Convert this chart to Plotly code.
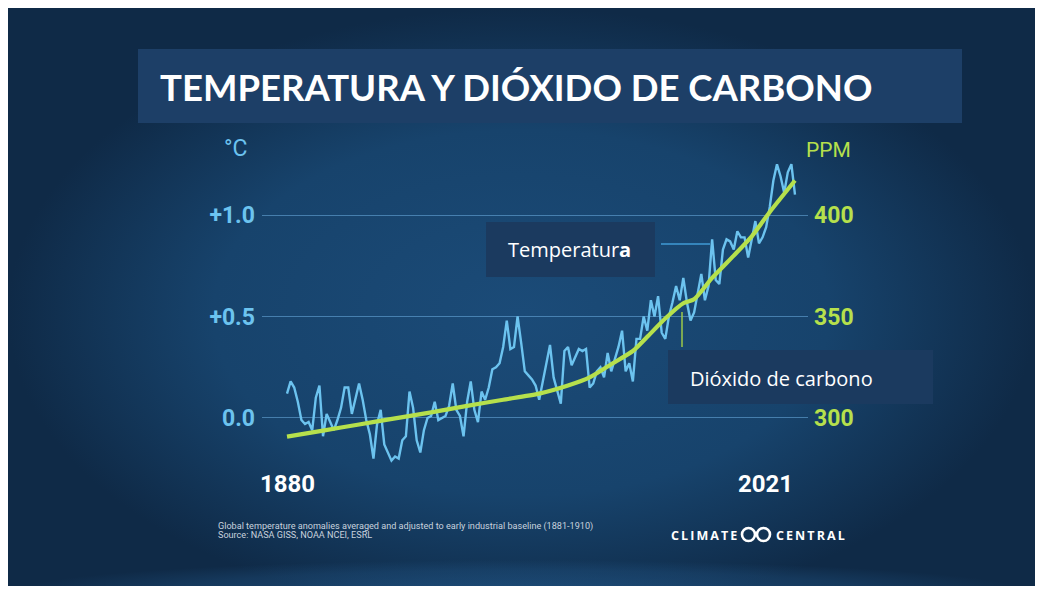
import plotly.graph_objects as go

# ---------------- data ----------------
years = list(range(1880, 2022))
temp_anomaly = [
    0.12, 0.18, 0.15, 0.08, -0.01, -0.03, -0.02, -0.06, 0.10, 0.16,   # 1880-1889
    -0.09, 0.02, -0.02, -0.06, -0.01, 0.05, 0.15, 0.15, 0.02, 0.10,   # 1890-1899
    0.17, 0.09, -0.01, -0.08, -0.20, -0.03, 0.04, -0.13, -0.17, -0.21,  # 1900-1909
    -0.19, -0.20, -0.11, -0.09, 0.13, 0.05, -0.11, -0.17, -0.06, 0.00,  # 1910-1919
    0.01, 0.08, -0.01, 0.00, 0.01, 0.06, 0.17, 0.04, 0.01, -0.09,     # 1920-1929
    0.08, 0.18, 0.04, -0.02, 0.13, 0.09, 0.15, 0.24, 0.25, 0.27,      # 1930-1939
    0.35, 0.48, 0.34, 0.35, 0.50, 0.37, 0.23, 0.21, 0.19, 0.16,       # 1940-1949
    0.09, 0.18, 0.27, 0.36, 0.20, 0.14, 0.07, 0.33, 0.35, 0.26,       # 1950-1959
    0.30, 0.34, 0.33, 0.34, 0.15, 0.17, 0.23, 0.25, 0.20, 0.32,       # 1960-1969
    0.23, 0.29, 0.35, 0.43, 0.23, 0.27, 0.18, 0.39, 0.39, 0.50,       # 1970-1979
    0.43, 0.58, 0.50, 0.60, 0.42, 0.39, 0.50, 0.57, 0.65, 0.58,       # 1980-1989
    0.69, 0.57, 0.48, 0.52, 0.62, 0.71, 0.58, 0.65, 0.88, 0.68,       # 1990-1999
    0.66, 0.83, 0.88, 0.87, 0.83, 0.92, 0.89, 0.89, 0.79, 0.89,       # 2000-2009
    0.97, 0.86, 0.89, 0.94, 1.04, 1.17, 1.25, 1.19, 1.11, 1.21,       # 2010-2019
    1.25, 1.10,                                                       # 2020-2021
]

co2_years = [1880, 1890, 1900, 1910, 1920, 1930, 1940, 1950, 1958, 1964, 1970,
             1976, 1980, 1985, 1990, 1993, 1998, 2004, 2009, 2014, 2021]
co2_ppm = [290.8, 293.8, 296.8, 299.8, 302.8, 306.0, 309.0, 312.0, 316.0, 320.0, 326.5,
           333.0, 340.0, 349.0, 356.5, 358.5, 369.0, 380.0, 389.5, 401.5, 417.0]

temp_ticks = [0.0, 0.5, 1.0]
temp_ticktext = ["0.0", "+0.5", "+1.0"]
co2_ticks = [300, 350, 400]
co2_ticktext = ["300", "350", "400"]
year_first, year_last = 1880, 2021

title_text = "TEMPERATURA Y DIÓXIDO DE CARBONO"
note_line1 = "Global temperature anomalies averaged and adjusted to early industrial baseline (1881-1910)"
note_line2 = "Source: NASA GISS, NOAA NCEI, ESRL"
brand_left = "CLIMATE"
brand_right = "CENTRAL"

# ---------------- layout helpers ----------------
# the page body keeps an 8px margin, so the figure spans 8..1035 x 8..586 of the window
OFF = 8
W, H = 1027, 578


def fx(x):
    return (x - OFF) / W


def fy(y):
    return 1 - (y - OFF) / H


def spaced(s):
    return "\u2009".join(s)


COND = "Roboto, DejaVu Sans Condensed, sans-serif"
TEMP_BLUE = "#6cc3ef"
CO2_GREEN = "#b6e04c"

fig = go.Figure()

# background panel (radial gradient), on a full-page helper axis
fig.add_trace(go.Scatter(
    x=[0, W, W, 0, 0], y=[0, 0, 610, 610, 0],
    mode="lines", line=dict(width=0, color="rgba(0,0,0,0)"),
    fill="toself",
    fillgradient=dict(type="radial",
                      colorscale=[[0, "#1b4b78"], [0.6, "#17436c"], [1, "#0f2a47"]]),
    hoverinfo="skip", showlegend=False, xaxis="x", yaxis="y",
))
# lighter "floor" band at the bottom of the panel
fig.add_trace(go.Scatter(
    x=[0, W, W, 0, 0], y=[552, 552, 620, 620, 552],
    mode="lines", line=dict(width=0, color="rgba(0,0,0,0)"),
    fill="toself",
    fillgradient=dict(type="radial",
                      colorscale=[[0, "rgba(40,100,155,0.55)"], [0.7, "rgba(40,100,155,0.25)"],
                                  [1, "rgba(40,100,155,0)"]]),
    hoverinfo="skip", showlegend=False, xaxis="x", yaxis="y",
))

# temperature
fig.add_trace(go.Scatter(
    x=years, y=temp_anomaly, mode="lines",
    line=dict(color=TEMP_BLUE, width=2.4),
    showlegend=False, xaxis="x2", yaxis="y2", name="Temperatura",
))

# CO2
fig.add_trace(go.Scatter(
    x=co2_years, y=co2_ppm, mode="lines",
    line=dict(color=CO2_GREEN, width=4.2, shape="spline", smoothing=0.6),
    showlegend=False, xaxis="x2", yaxis="y3", name="Dióxido de carbono",
))

shapes = [
    # title box
    dict(type="rect", xref="paper", yref="paper", x0=fx(138), x1=fx(962), y0=fy(123), y1=fy(49),
         fillcolor="#1d3f67", line=dict(width=0)),
    # Temperatura label box + leader
    dict(type="rect", xref="paper", yref="paper", x0=fx(486), x1=fx(655), y0=fy(277), y1=fy(222),
         fillcolor="#1b3a5f", line=dict(width=0)),
    dict(type="line", xref="paper", yref="paper", x0=fx(661), x1=fx(710), y0=fy(244), y1=fy(244),
         line=dict(color="#3f9bd6", width=1.5)),
    # Dióxido label box + leader
    dict(type="rect", xref="paper", yref="paper", x0=fx(668), x1=fx(933), y0=fy(404), y1=fy(350),
         fillcolor="#1b3a5f", line=dict(width=0)),
    dict(type="line", xref="paper", yref="paper", x0=fx(682), x1=fx(682), y0=fy(347), y1=fy(312),
         line=dict(color="#9cc84a", width=1.5)),
    # Climate Central logo rings
    dict(type="circle", xref="paper", yref="paper", x0=fx(742), x1=fx(755), y0=fy(541), y1=fy(528),
         line=dict(color="white", width=2.6)),
    dict(type="circle", xref="paper", yref="paper", x0=fx(757), x1=fx(770), y0=fy(541), y1=fy(528),
         line=dict(color="white", width=2.6)),
]

annotations = [
    dict(text=f"<b>{title_text}</b>", x=fx(158), y=fy(87), xref="paper", yref="paper",
         xanchor="left", yanchor="middle", showarrow=False,
         font=dict(family="Lato, Open Sans, sans-serif", size=36.5, color="white")),
    dict(text="°C", x=fx(236), y=fy(149), xref="paper", yref="paper", showarrow=False,
         xanchor="center", yanchor="middle",
         font=dict(family="Roboto, sans-serif", size=23, color=TEMP_BLUE)),
    dict(text="PPM", x=fx(828), y=fy(150), xref="paper", yref="paper", showarrow=False,
         xanchor="center", yanchor="middle",
         font=dict(family="Roboto, sans-serif", size=21, color=CO2_GREEN)),
    # year labels at the two ends of the series
    dict(text=f"<b>{year_first}</b>", x=year_first, y=fy(484), xref="x2", yref="paper",
         showarrow=False, xanchor="center", yanchor="middle",
         font=dict(family=COND, size=24, color="white")),
    dict(text=f"<b>{year_last}</b>", x=year_last, y=fy(484), xref="x2", yref="paper",
         showarrow=False, xanchor="right", yanchor="middle",
         font=dict(family=COND, size=24, color="white")),
    dict(text="Temperatur<b>a</b>", x=fx(506), y=fy(249), xref="paper", yref="paper", showarrow=False,
         xanchor="left", yanchor="middle",
         font=dict(family="Open Sans, sans-serif", size=20, color="white")),
    dict(text="Dióxido de carbono", x=fx(688), y=fy(378), xref="paper", yref="paper", showarrow=False,
         xanchor="left", yanchor="middle",
         font=dict(family="Open Sans, sans-serif", size=20, color="white")),
    dict(text=note_line1, x=fx(216), y=fy(526), xref="paper", yref="paper", showarrow=False,
         xanchor="left", yanchor="middle",
         font=dict(family="Roboto, sans-serif", size=9.1, color="#c8d2de")),
    dict(text=note_line2, x=fx(216), y=fy(535), xref="paper", yref="paper", showarrow=False,
         xanchor="left", yanchor="middle",
         font=dict(family="Roboto, sans-serif", size=9.1, color="#c8d2de")),
    dict(text=f"<b>{spaced(brand_left)}</b>", x=fx(669), y=fy(535), xref="paper", yref="paper",
         showarrow=False, xanchor="left", yanchor="middle",
         font=dict(family="Open Sans, sans-serif", size=12.5, color="white")),
    dict(text=f"<b>{spaced(brand_right)}</b>", x=fx(847), y=fy(535), xref="paper", yref="paper",
         showarrow=False, xanchor="right", yanchor="middle",
         font=dict(family="Open Sans, sans-serif", size=12.5, color="white")),
]

fig.update_layout(
    width=W, height=H, autosize=False,
    margin=dict(l=0, r=0, t=0, b=0, pad=0, autoexpand=False),
    paper_bgcolor="#0f2a47",
    plot_bgcolor="rgba(0,0,0,0)",
    showlegend=False,
    shapes=shapes,
    annotations=annotations,
    xaxis=dict(domain=[0, 1], range=[0, W], visible=False, fixedrange=True),
    yaxis=dict(domain=[0, 1], range=[H, 0], visible=False, fixedrange=True),
    xaxis2=dict(
        domain=[fx(262), fx(808)], anchor="y2",
        range=[1873.06, 2024.61],
        showticklabels=False,
        showgrid=False, zeroline=False, showline=False, ticks="",
        automargin=False,
    ),
    yaxis2=dict(
        domain=[fy(470), fy(140)], anchor="x2",
        range=[-0.2562, 1.3695],
        tickmode="array", tickvals=temp_ticks, ticktext=temp_ticktext,
        tickfont=dict(family=COND, size=23, color=TEMP_BLUE, weight="bold"),
        showgrid=True, gridcolor="rgba(110,175,225,0.55)", gridwidth=1,
        zeroline=False, showline=False, ticks="", ticklabelstandoff=6,
        automargin=False,
    ),
    yaxis3=dict(
        overlaying="y2", side="right", anchor="x2",
        range=[274.38, 436.95],
        tickmode="array", tickvals=co2_ticks, ticktext=co2_ticktext,
        tickfont=dict(family=COND, size=23, color=CO2_GREEN, weight="bold"),
        showgrid=False, zeroline=False, showline=False, ticks="", ticklabelstandoff=5,
        automargin=False,
    ),
)

fig.write_html("out.html")
